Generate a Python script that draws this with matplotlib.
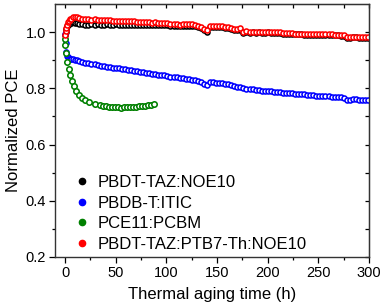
import numpy as np
import matplotlib
matplotlib.use("Agg")
import matplotlib.pyplot as plt
from matplotlib.lines import Line2D

plt.rcParams['font.family'] = ['Liberation Sans', 'DejaVu Sans']

# measurement time grid (h) for the three long-run devices
t_main = np.concatenate([[0, 0.5, 1, 2, 3, 4, 5, 6, 8, 10, 12, 14, 17, 20],
                         np.arange(23, 141, 3), np.arange(143, 300, 3)])

pce_noe10 = [0.990, 1.000, 1.010, 1.020, 1.026, 1.030, 1.032, 1.034, 1.035, 1.034, 1.032, 1.030, 1.028, 1.027,
             1.027, 1.028, 1.027, 1.028, 1.027, 1.027, 1.028, 1.027, 1.027, 1.028, 1.027, 1.027, 1.026, 1.027,
             1.026, 1.026, 1.027, 1.026, 1.026, 1.025, 1.026, 1.025, 1.025, 1.024, 1.025, 1.024, 1.024, 1.023,
             1.023, 1.022, 1.021, 1.022, 1.023, 1.023, 1.022, 1.020, 1.017, 1.013, 1.007, 1.002,
             1.017, 1.019, 1.017, 1.018, 1.019, 1.016, 1.014, 1.011, 1.009, 1.007, 1.009, 0.996, 0.999, 0.998,
             0.999, 0.998, 0.999, 0.998, 0.998, 0.999, 0.997, 0.996, 0.996, 0.996, 0.995, 0.994, 0.994, 0.993,
             0.992, 0.992, 0.992, 0.991, 0.991, 0.990, 0.990, 0.989, 0.989, 0.989, 0.989, 0.989, 0.989, 0.988,
             0.988, 0.987, 0.985, 0.978, 0.979, 0.981, 0.981, 0.980, 0.979, 0.979, 0.978]

pce_itic = [0.995, 0.960, 0.930, 0.915, 0.910, 0.908, 0.906, 0.905, 0.903, 0.901, 0.899, 0.897, 0.894, 0.891,
            0.889, 0.887, 0.885, 0.883, 0.881, 0.879, 0.877, 0.876, 0.874, 0.872, 0.871, 0.869, 0.867, 0.866,
            0.864, 0.862, 0.861, 0.859, 0.857, 0.856, 0.854, 0.852, 0.851, 0.849, 0.847, 0.846, 0.844, 0.842,
            0.841, 0.839, 0.837, 0.836, 0.834, 0.833, 0.831, 0.829, 0.826, 0.822, 0.816, 0.811,
            0.821, 0.821, 0.820, 0.820, 0.819, 0.817, 0.815, 0.812, 0.809, 0.806, 0.806, 0.800, 0.799, 0.797,
            0.796, 0.795, 0.794, 0.792, 0.791, 0.790, 0.789, 0.788, 0.787, 0.786, 0.785, 0.784, 0.783, 0.782,
            0.781, 0.780, 0.779, 0.778, 0.777, 0.776, 0.775, 0.774, 0.773, 0.772, 0.771, 0.771, 0.770, 0.770,
            0.769, 0.769, 0.767, 0.759, 0.760, 0.761, 0.761, 0.760, 0.759, 0.758, 0.757]

pce_ternary = [0.990, 1.005, 1.015, 1.027, 1.035, 1.041, 1.045, 1.048, 1.052, 1.055, 1.054, 1.051, 1.048, 1.046,
               1.045, 1.044, 1.045, 1.044, 1.043, 1.042, 1.043, 1.042, 1.041, 1.040, 1.041, 1.040, 1.039, 1.038,
               1.039, 1.038, 1.037, 1.036, 1.037, 1.036, 1.035, 1.034, 1.035, 1.033, 1.032, 1.031, 1.032, 1.030,
               1.029, 1.028, 1.027, 1.028, 1.029, 1.029, 1.028, 1.026, 1.023, 1.019, 1.012, 1.006,
               1.021, 1.022, 1.020, 1.021, 1.022, 1.019, 1.017, 1.014, 1.012, 1.010, 1.013, 1.000, 1.003, 1.001,
               1.002, 1.001, 1.002, 1.001, 1.001, 1.002, 1.000, 0.999, 0.999, 0.999, 0.998, 0.997, 0.997, 0.996,
               0.995, 0.995, 0.995, 0.994, 0.994, 0.993, 0.993, 0.992, 0.992, 0.992, 0.992, 0.992, 0.992, 0.991,
               0.991, 0.990, 0.988, 0.982, 0.983, 0.984, 0.984, 0.983, 0.982, 0.982, 0.981]

t_pcbm = np.concatenate([[0, 0.3, 0.7, 1.8, 3.5, 5, 7, 9, 11, 13.5, 17, 20, 24, 29, 34],
                         np.arange(37, 89, 3)])
pce_pcbm = [0.977, 0.954, 0.924, 0.894, 0.868, 0.846, 0.825, 0.807, 0.790, 0.777, 0.767, 0.757, 0.750, 0.744,
            0.740, 0.738, 0.736, 0.735, 0.733, 0.732, 0.732, 0.731, 0.732, 0.733, 0.734, 0.735, 0.735, 0.736,
            0.737, 0.738, 0.740, 0.742, 0.745]

labels = ["PBDT-TAZ:NOE10", "PBDB-T:ITIC", "PCE11:PCBM", "PBDT-TAZ:PTB7-Th:NOE10"]
colors = ["#000000", "#0000ff", "#008000", "#ff0000"]

fig = plt.figure(figsize=(3.83, 3.07), dpi=100)
ax = fig.add_axes([0.1436, 0.163, 0.82, 0.824])

series = [(t_main, pce_noe10), (t_main, pce_itic), (t_pcbm, pce_pcbm), (t_main, pce_ternary)]
for (t, v), c in zip(series, colors):
    ms = 3.9 if c == "#008000" else 3.6
    ax.plot(t, v, linestyle='none', marker='o', ms=ms, mfc='white', mec=c, mew=1.15)

ax.set_xlim(-10, 300)
ax.set_ylim(0.2, 1.1)
ax.set_xticks([0, 50, 100, 150, 200, 250, 300])
ax.set_xticks(np.arange(25, 300, 50), minor=True)
ax.set_yticks([0.2, 0.4, 0.6, 0.8, 1.0])
ax.set_yticks([0.3, 0.5, 0.7, 0.9], minor=True)
ax.tick_params(which='major', direction='out', length=4.5, width=0.9, labelsize=10.5, pad=2)
ax.tick_params(which='minor', direction='out', length=2.5, width=0.9)
for s in ax.spines.values():
    s.set_linewidth(1.0)
    s.set_color('#333333')

top = ax.secondary_xaxis('top')
top.set_xticks([0, 50, 100, 150, 200, 250, 300])
top.set_xticks(np.arange(25, 300, 50), minor=True)
top.tick_params(which='both', direction='in', length=3, width=0.9, labeltop=False)
right = ax.secondary_yaxis('right')
right.set_yticks([0.2, 0.4, 0.6, 0.8, 1.0])
right.set_yticks([0.3, 0.5, 0.7, 0.9], minor=True)
right.tick_params(which='both', direction='in', length=3, width=0.9, labelright=False)

ax.set_xlabel("Thermal aging time (h)", fontsize=12, labelpad=5)
ax.set_ylabel("Normalized PCE", fontsize=12, labelpad=3)

handles = [Line2D([], [], linestyle='none', marker='o', ms=4.5, mfc=c, mec=c) for c in colors]
ax.legend(handles, labels, loc='lower left', bbox_to_anchor=(0.033, -0.005), frameon=False,
          fontsize=12, handletextpad=0.35, labelspacing=0.33, handlelength=1.2, borderaxespad=0.0)

fig.savefig("out.png", dpi=100)
